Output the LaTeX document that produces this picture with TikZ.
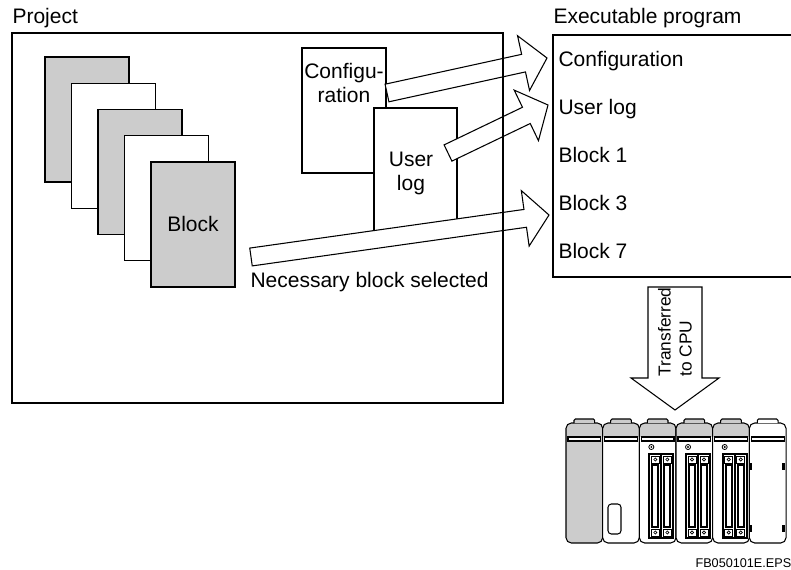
\documentclass[tikz,border=0pt]{standalone}
\usepackage{fontspec}
\setmainfont{Liberation Sans}
\usetikzlibrary{calc}

\definecolor{panel}{gray}{0.8}

% hollow block arrow: tail, tip, half shaft width, half head width, head length
\newcommand{\fatarrow}[5]{%
  \draw[fatbody] let \p1 = ($(#2)-(#1)$), \n1 = {atan2(\y1,\x1)},
      \n2 = {veclen(\x1,\y1)-#5} in
    ($(#1)+({\n1+90}:#3)$)
    -- ($(#1)+(\n1:\n2)+({\n1+90}:#3)$)
    -- ($(#1)+(\n1:\n2)+({\n1+90}:#4)$)
    -- (#2)
    -- ($(#1)+(\n1:\n2)+({\n1-90}:#4)$)
    -- ($(#1)+(\n1:\n2)+({\n1-90}:#3)$)
    -- ($(#1)+({\n1-90}:#3)$) -- cycle;}

\begin{document}
\begin{tikzpicture}[
        x = 0.75pt, y = -0.75pt, % pixel grid, y runs downwards
        line width = 0.8pt,
        every node/.style = {font=\fontsize{15.75}{18}\selectfont, inner sep=0pt},
        heading/.style = {anchor=base west},
        fatbody/.style = {draw, fill=white, line join=miter},
        rack/.style = {rounded corners=4pt}
    ]

    \useasboundingbox (0,0) rectangle (791,570);

    % stack of program blocks
    \foreach \i/\c in {0/panel, 1/white, 2/panel, 3/white, 4/panel}
        \draw[fill=\c] ({45+26.5*\i},{57+26.25*\i}) rectangle +(84,125);
    \node (block) at (193,224) {Block};

    % configuration and user log sheets
    \draw[fill=white] (302,48) rectangle (386,173);
    \node[align=center] (cfg) at (344,83) {Configu-\\ration};
    \draw[fill=white] (374,108) rectangle (457,233);
    \node[align=center] (log) at (411,173) {User\\log};

    \node[heading] (sel) at (250,287) {Necessary block selected};

    % executable program list
    \node[heading] (exe) at (553,24) {Executable program};
    \draw (553,35) rectangle (800,277);
    \foreach \t [count=\k from 0] in {Configuration, User log, Block 1, Block 3, Block 7}
        \node[heading] (entry\k) at (558,{67+47.75*\k}) {\t};

    \coordinate (cfg-tail) at (387,93);
    \coordinate (cfg-tip)  at (547,58);
    \coordinate (log-tail) at (448,153);
    \coordinate (log-tip)  at (548,105);
    \coordinate (blk-tail) at (251,257);
    \coordinate (blk-tip)  at (549,215);

    \fatarrow{cfg-tail}{cfg-tip}{6.75pt}{21pt}{18pt}
    \fatarrow{log-tail}{log-tip}{6.75pt}{21pt}{18pt}
    \fatarrow{blk-tail}{blk-tip}{6.75pt}{21pt}{18pt}

    % project frame on top of the arrows
    \node[heading] (project) at (12,24) {Project};
    \draw (12,33) rectangle (503,403);

    % transfer to the CPU
    \coordinate (xfer-tail) at (675,287);
    \coordinate (xfer-tip)  at (675,410);
    \fatarrow{xfer-tail}{xfer-tip}{20.25pt}{33pt}{24pt}
    \node[rotate=90, align=left, font=\fontsize{13}{15.75}\selectfont] (xfer) at (675,332) {Transferred\\to CPU};

    % module rack
    \foreach \i/\body/\band in {0/panel/panel, 1/white/panel, 2/white/panel,
                                3/white/panel, 4/white/panel, 5/white/white} {
        \pgfmathsetmacro{\mx}{566+36.67*\i}
        \begin{scope}
            \clip[rack] (\mx,423) rectangle ++(36.67,120);
            \fill[\body] (\mx,423) rectangle ++(36.67,120);
            \fill[\band] (\mx,423) rectangle ++(36.67,14);
        \end{scope}
        \draw[rack] (\mx,423) rectangle ++(36.67,120);
        \draw[fill=white] ({\mx+2},437) rectangle ++(32.67,4);
        \draw[fill=\band, rounded corners=1pt] ({\mx+8},423) -- ++(0,-4) -- ++(20.67,0) -- ++(0,4);
    }

    % display window
    \draw[rounded corners=2.5pt] (608,504) rectangle (621,534);

    % I/O modules with two connectors each
    \foreach \i in {2,3,4} {
        \pgfmathsetmacro{\mx}{566+36.67*\i}
        \draw[line width=0.6pt] ({\mx+12},447) circle[radius=1.9pt];
        \fill ({\mx+12},447) circle[radius=0.8pt];
        \foreach \c in {10,22} {
            \draw[line width=1.3pt] ({\mx+\c},454) rectangle ++(12,84);
            \draw[line width=1.3pt] ({\mx+\c+3},465) rectangle ++(6,62);
            \draw[line width=0.5pt] ({\mx+\c+2},456) rectangle ++(8,7)
                                    ({\mx+\c+2},529) rectangle ++(8,7);
            \draw[line width=0.5pt] ({\mx+\c+6},459.5) circle[radius=1.2pt]
                                    ({\mx+\c+6},532.5) circle[radius=1.2pt];
        }
    }

    % end cover clips
    \foreach \y in {463,525} {
        \fill (749.35,\y) rectangle ++(3,7);
        \fill (782.0,\y) rectangle ++(3,7);
    }

    \node[heading, font=\fontsize{9.5}{11}\selectfont] (fig-id) at (695,567) {FB050101E.EPS};

\end{tikzpicture}
\end{document}
